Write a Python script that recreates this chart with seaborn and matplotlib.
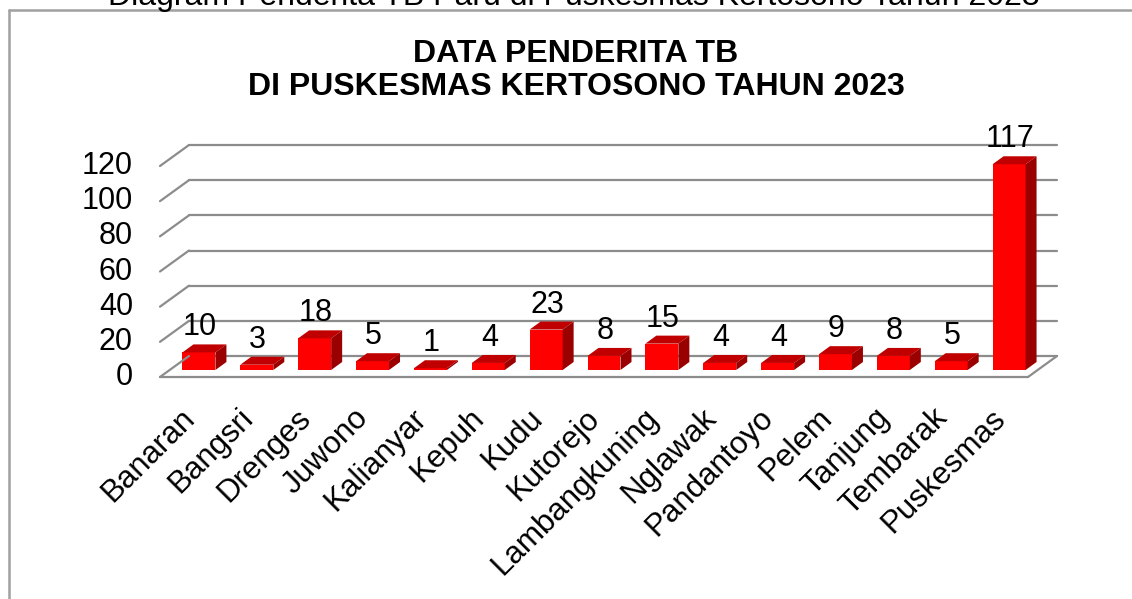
import numpy as np
import pandas as pd
import matplotlib
matplotlib.use("Agg")
import matplotlib.pyplot as plt
import seaborn as sns
from matplotlib.transforms import ScaledTranslation, IdentityTransform
from matplotlib.patches import Polygon
from matplotlib.lines import Line2D

categories = ["Banaran", "Bangsri", "Drenges", "Juwono", "Kalianyar", "Kepuh", "Kudu",
              "Kutorejo", "Lambangkuning", "Nglawak", "Pandantoyo", "Pelem", "Tanjung",
              "Tembarak", "Puskesmas"]
values = [10, 3, 18, 5, 1, 4, 23, 8, 15, 4, 4, 9, 8, 5, 117]
yticks = [0, 20, 40, 60, 80, 100, 120]
title_lines = ["DATA PENDERITA TB", "DI PUSKESMAS KERTOSONO TAHUN 2023"]
top_text = "Diagram Penderita TB Paru di Puskesmas Kertosono Tahun 2023"

W, H, DPI = 1132, 599, 100
sns.set_theme(style="white")
plt.rcParams["font.family"] = ["Liberation Sans", "DejaVu Sans"]
plt.rcParams["text.color"] = "black"

fig = plt.figure(figsize=(W / DPI, H / DPI), dpi=DPI)
fig.patch.set_facecolor("white")
ax = fig.add_axes([170 / W, (H - 370) / H, 868 / W, 211 / H])

df = pd.DataFrame({"Desa": categories, "Jumlah": values})
sns.barplot(data=df, x="Desa", y="Jumlah", color="#FF0000", saturation=1,
            width=0.57, linewidth=0, ax=ax, zorder=3)
ax.set_xlim(-0.5, 14.5)
ax.set_ylim(0, 120)
ax.axis("off")
fig.canvas.draw()


def off(dx, dy):
    return ax.transData + ScaledTranslation(dx / DPI, dy / DPI, fig.dpi_scale_trans)


GRID = "#8c8c8c"
# back wall gridlines
for y in yticks:
    ax.plot([-0.5, 14.5], [y, y], color=GRID, lw=1.6, transform=off(19, 14),
            clip_on=False, zorder=1)
    p = ax.transData.transform((-0.5, y))
    fig.add_artist(Line2D([p[0] - 10, p[0] + 19], [p[1] - 7, p[1] + 14], color=GRID,
                          lw=1.6, transform=IdentityTransform(), zorder=0.5))
# floor front edge and right side
ax.plot([-0.5, 14.5], [0, 0], color=GRID, lw=1.6, transform=off(-10, -7),
        clip_on=False, zorder=1)
p = ax.transData.transform((14.5, 0))
fig.add_artist(Line2D([p[0] - 10, p[0] + 19], [p[1] - 7, p[1] + 14], color=GRID,
                      lw=1.6, transform=IdentityTransform(), zorder=0.5))

# 3D faces of bars
DX, DY = 11, 8
for patch in ax.patches:
    x0 = patch.get_x()
    x1 = x0 + patch.get_width()
    h = patch.get_height()
    A = ax.transData.transform((x0, h))
    B = ax.transData.transform((x1, h))
    C = ax.transData.transform((x1, 0))
    top = [A, B, (B[0] + DX, B[1] + DY), (A[0] + DX, A[1] + DY)]
    side = [C, B, (B[0] + DX, B[1] + DY), (C[0] + DX, C[1] + DY)]
    fig.add_artist(Polygon(top, closed=True, facecolor="#C00000", edgecolor="none",
                           transform=IdentityTransform(), zorder=2))
    fig.add_artist(Polygon(side, closed=True, facecolor="#9A0000", edgecolor="none",
                           transform=IdentityTransform(), zorder=2))

# data labels
for i, v in enumerate(values):
    ax.text(i, v, str(v), transform=off(1, 17), ha="center", va="baseline",
            fontsize=22, color="black", clip_on=False)

# y tick labels on front plane
for y in yticks:
    ax.text(-0.5, y, str(y), transform=off(-37, -7), ha="right", va="center",
            fontsize=22, color="black", clip_on=False)

# category labels
for i, c in enumerate(categories):
    ax.text(i, 0, c, transform=off(-19, -33), ha="right", va="top", rotation=45,
            rotation_mode="anchor", fontsize=22.5, color="black", clip_on=False)

# titles
fig.text(576 / W, (H - 62) / H, title_lines[0], ha="center", va="baseline",
         fontsize=23, fontweight="bold", color="black")
fig.text(576 / W, (H - 95) / H, title_lines[1], ha="center", va="baseline",
         fontsize=23, fontweight="bold", color="black")
fig.text(108 / W, (H - 5) / H, top_text, ha="left", va="baseline", fontsize=23,
         color="black")

# outer chart border
BC = "#a0a0a0"
fig.add_artist(Line2D([9 / W, 9 / W], [0, (H - 10) / H], color=BC, lw=1.8,
                      transform=fig.transFigure))
fig.add_artist(Line2D([9 / W, 1], [(H - 10) / H, (H - 10) / H], color=BC, lw=1.8,
                      transform=fig.transFigure))

fig.savefig("out.png", dpi=DPI, facecolor="white")
